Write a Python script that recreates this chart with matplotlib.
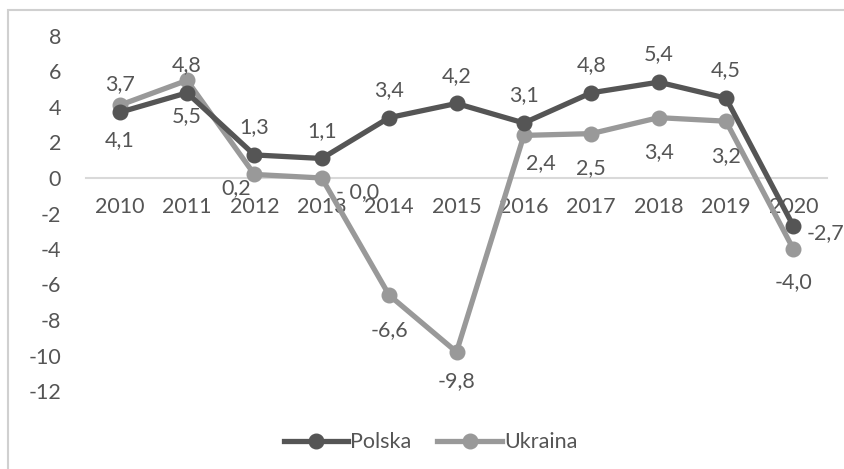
import matplotlib.pyplot as plt
from matplotlib.patches import Rectangle

years = ['2010', '2011', '2012', '2013', '2014', '2015', '2016', '2017', '2018', '2019', '2020']
polska = [3.7, 4.8, 1.3, 1.1, 3.4, 4.2, 3.1, 4.8, 5.4, 4.5, -2.7]
ukraina = [4.1, 5.5, 0.2, 0.0, -6.6, -9.8, 2.4, 2.5, 3.4, 3.2, -4.0]
# data labels as printed on the chart
polska_labels = ['3,7', '4,8', '1,3', '1,1', '3,4', '4,2', '3,1', '4,8', '5,4', '4,5', '-2,7']
ukraina_labels = ['4,1', '5,5', '0,2', '- 0,0', '-6,6', '-9,8', '2,4', '2,5', '3,4', '3,2', '-4,0']

# label offsets in points (style only)
pl_off = [(0, 20)] * 10 + [(23, -5)]
uk_off = [(0, -25), (0, -26), (-13, -10), (26, -10), (0, -25), (0, -21),
          (12, -20), (0, -25), (0, -25), (0, -25), (0, -24)]

DARK = '#555555'
LIGHT = '#999999'
TXT = '#555555'
FS = 15.5

plt.rcParams['font.family'] = ['Lato', 'DejaVu Sans']
plt.rcParams['axes.unicode_minus'] = False

fig = plt.figure(figsize=(8.45, 4.69), dpi=100)
fig.patches.append(Rectangle((8 / 845, -0.1), 1.0, (469 - 10) / 469 + 0.1,
                             transform=fig.transFigure, fill=False,
                             edgecolor='#d0d0d0', linewidth=1.5))
ax = fig.add_axes([86 / 845, 78 / 469, 741 / 845, 355 / 469])

x = range(len(years))
ax.plot(x, polska, color=DARK, lw=3.8, marker='o', ms=10.5, label='Polska', zorder=3)
ax.plot(x, ukraina, color=LIGHT, lw=3.8, marker='o', ms=10.5, label='Ukraina', zorder=2)

for i in x:
    ax.annotate(polska_labels[i], (i, polska[i]), xytext=pl_off[i], textcoords='offset points',
                ha='center', va='center', fontsize=FS, color=TXT)
    ax.annotate(ukraina_labels[i], (i, ukraina[i]), xytext=uk_off[i], textcoords='offset points',
                ha='center', va='center', fontsize=FS, color=TXT)

ax.set_xlim(-0.5, 10.5)
ax.set_ylim(-12, 8)
ax.set_yticks(range(-12, 9, 2))
ax.set_xticks(list(x))
ax.set_xticklabels(years)
for s in ['top', 'right', 'left']:
    ax.spines[s].set_visible(False)
ax.spines['bottom'].set_position(('data', 0))
ax.spines['bottom'].set_color('#d9d9d9')
ax.spines['bottom'].set_linewidth(1.5)
ax.spines['bottom'].set_zorder(1)
ax.tick_params(axis='x', length=0, pad=14, labelsize=FS, labelcolor=TXT)
ax.tick_params(axis='y', length=0, pad=18, labelsize=FS, labelcolor=TXT)

ax.legend(loc='center', bbox_to_anchor=(0.465, -0.145), ncol=2, frameon=False,
          fontsize=FS, labelcolor=TXT, handlelength=3.0, handletextpad=0.1,
          columnspacing=1.2)

fig.savefig('out.png', dpi=100)
